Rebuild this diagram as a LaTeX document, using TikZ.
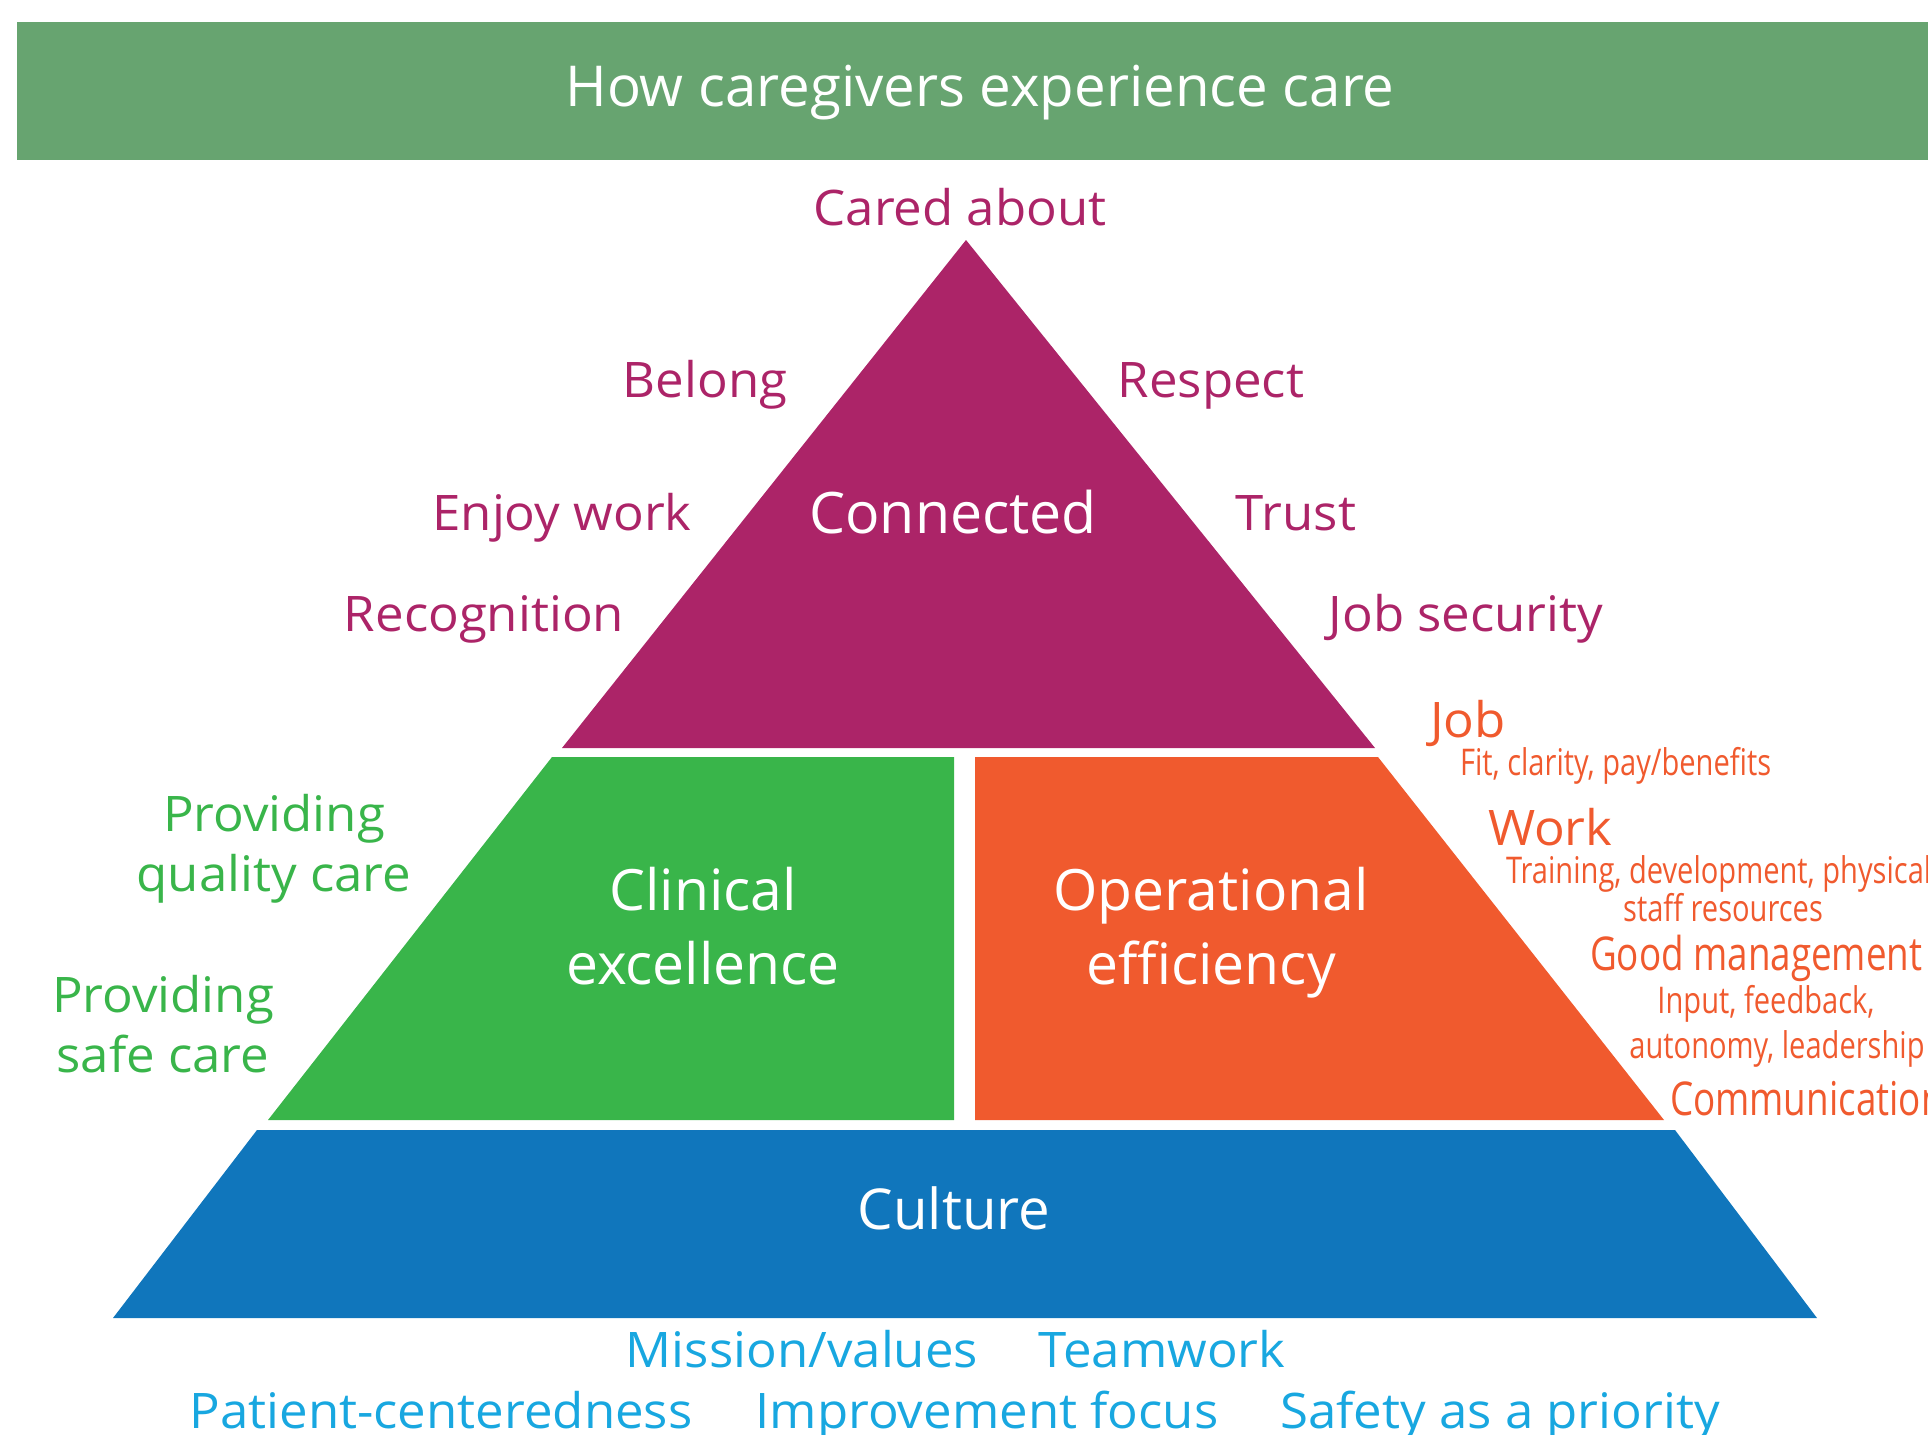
\documentclass[tikz,border=0pt]{standalone}
\usepackage{fontspec}
\setmainfont{Open Sans}
\newfontfamily\mainf{Open Sans}
\newfontfamily\labf[FakeStretch=1.04]{Open Sans}
\newfontfamily\condf[FakeStretch=0.79]{Open Sans}

\definecolor{headgreen}{RGB}{103,164,112}
\definecolor{plum}{RGB}{172,36,104}
\definecolor{leaf}{RGB}{57,181,74}
\definecolor{tangerine}{RGB}{240,90,46}
\definecolor{ocean}{RGB}{16,118,188}
\definecolor{sky}{RGB}{24,167,224}

\tikzset{
  txt/.style={inner sep=0pt, outer sep=0pt},
  huge/.style={txt, font=\mainf\fontsize{28.6pt}{33pt}\selectfont},
  big/.style={txt, font=\mainf\fontsize{28.5pt}{37pt}\selectfont},
  lab/.style={txt, font=\labf\fontsize{24.5pt}{30pt}\selectfont},
  small/.style={txt, font=\condf\fontsize{18.4pt}{19pt}\selectfont},
  mid/.style={txt, font=\condf\fontsize{23.3pt}{24pt}\selectfont},
}

\begin{document}
\begin{tikzpicture}[x=0.5pt,y=-0.5pt]
\useasboundingbox (0,0) rectangle (1928,1435);
\clip (0,0) rectangle (1928,1435);

% header band
\fill[headgreen] (17,22) rectangle (1940,160);
\node[huge, white, anchor=base, font=\mainf\fontsize{28.2pt}{33pt}\selectfont] (title) at (980,106) {How caregivers experience care};

% pyramid tiers
\fill[plum] (966,240) -- (1375,748) -- (562,748) -- cycle;
\fill[leaf] (552,757) -- (954,757) -- (954,1120) -- (268,1120) -- cycle;
\fill[tangerine] (975,757) -- (1378,757) -- (1664,1120) -- (975,1120) -- cycle;
\fill[ocean] (257,1130) -- (1675,1130) -- (1817,1318) -- (113,1318) -- cycle;

% tier titles (a multi-line node sits on the baseline of its last line)
\node[huge, white, anchor=base] (connected) at (953,533) {Connected};
\node[big, white, anchor=base, align=center] (clinical) at (703,984) {Clinical\\excellence};
\node[big, white, anchor=base, align=center] (operational) at (1211,984) {Operational\\efficiency};
\node[huge, white, anchor=base, font=\mainf\fontsize{28.2pt}{33pt}\selectfont] (culture) at (954,1229) {Culture};

% top tier: connected
\begin{scope}[every node/.append style={lab, plum, anchor=base}]
\node (cared) at (960,225) {Cared about};
\node (belong) at (705,397) {Belong};
\node (respect) at (1211,397) {Respect};
\node (enjoy) at (562,530) {Enjoy work};
\node (trust) at (1296,530) {Trust};
\node (recog) at (484,631) {Recognition};
\node (jobsec) at (1466,631) {Job security};
\end{scope}

% middle tier, clinical side
\node[lab, leaf, anchor=base, align=center] (quality) at (274,891) {Providing\\quality care};
\node[lab, leaf, anchor=base, align=center] (safe) at (163,1072) {Providing\\safe care};

% middle tier, operational side
\begin{scope}[every node/.append style={tangerine}]
\node[lab, anchor=base west] (job) at (1430,737) {Job};
\node[small, anchor=base west] (jobd) at (1460,775) {Fit, clarity, pay/benefits};
\node[lab, anchor=base west] (work) at (1488,845) {Work};
\node[small, anchor=base west] (workd) at (1506,883) {Training, development, physical};
\node[small, anchor=base] (workd2) at (1723,921) {staff resources};
\node[mid, anchor=base west] (mgmt) at (1590,970) {Good management};
\node[small, anchor=base] (mgmtd) at (1766,1013) {Input, feedback,};
\node[small, anchor=base] (mgmtd2) at (1777,1058) {autonomy, leadership};
\node[mid, anchor=base west] (comm) at (1670,1115) {Communication};
\end{scope}

% base tier: culture
\begin{scope}[every node/.append style={lab, sky, anchor=base}]
\node (mission) at (802,1367) {Mission/values};
\node (team) at (1162,1367) {Teamwork};
\node (patient) at (441,1428) {Patient-centeredness};
\node (improve) at (987,1428) {Improvement focus};
\node (safety) at (1500,1428) {Safety as a priority};
\end{scope}
\end{tikzpicture}
\end{document}
